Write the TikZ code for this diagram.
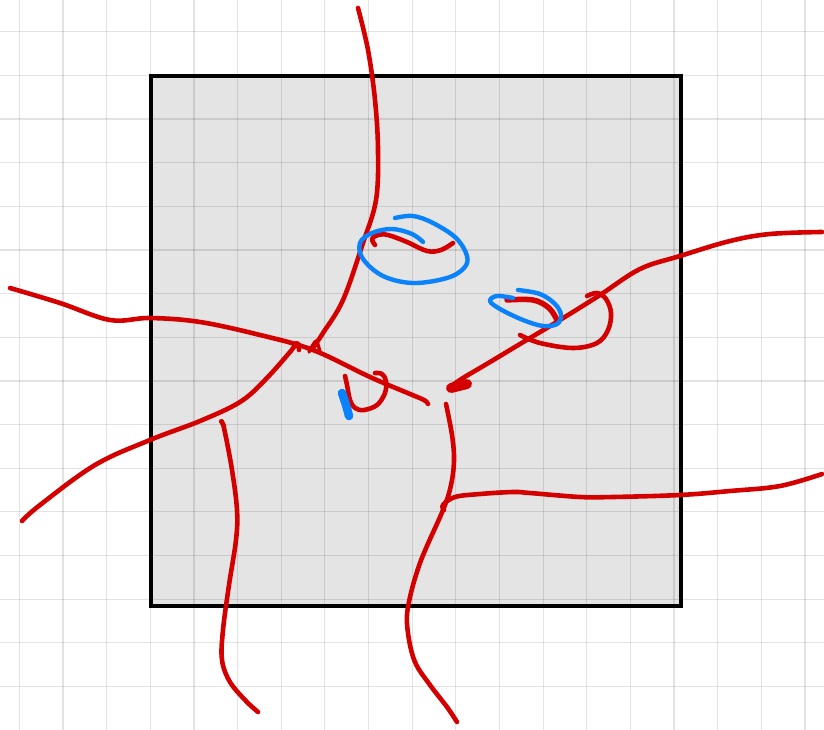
\documentclass[tikz,border=0pt]{standalone}
\usetikzlibrary{calc}
\definecolor{penred}{RGB}{212,0,0}
\definecolor{penblue}{RGB}{10,130,250}
\definecolor{boxfill}{RGB}{228,228,228}
\tikzset{
  gridline/.style={draw=black, opacity=0.11, line width=1.2pt},
  redpen/.style={draw=penred, line width=4.6pt, line cap=round, line join=round},
  redthin/.style={draw=penred, line width=3.4pt, line cap=round, line join=round},
  bluepen/.style={draw=penblue, line width=4.4pt, line cap=round, line join=round},
}
\begin{document}
\begin{tikzpicture}[x=1pt,y=-1pt]
\useasboundingbox (0,0) rectangle (824,730);
\fill[white] (0,0) rectangle (824,730);
% box
\fill[boxfill] (151,76) rectangle (681,606);
% grid
\foreach \k in {0,...,18} {\draw[gridline] ({19.3+43.65*\k},0) -- ({19.3+43.65*\k},730);}
\foreach \k in {0,...,16} {\draw[gridline] (0,{31.7+43.65*\k}) -- (824,{31.7+43.65*\k});}
\draw[draw=black, line width=4.2pt] (151,76) rectangle (681,606);

% top vertical curve
\draw[redpen] plot[smooth, tension=0.6] coordinates {(358,8) (368,50) (375,100) (378,150) (376,200) (363,243) (343,300) (323,333) (313,348)};
% junction mark
\draw[redthin] plot[smooth, tension=0.5] coordinates {(309,352) (316,341) (320,352)};
% left long curve
\draw[redpen] plot[smooth, tension=0.6] coordinates {(10,288) (60,303) (110,320) (150,318) (200,322) (260,335) (313,350) (370,377) (410,394) (424,400) (428,404)};
% lower-left curve
\draw[redpen] plot[smooth, tension=0.6] coordinates {(22,521) (40,505) (95,465) (150,440) (200,421) (240,402) (265,380) (290,352) (297,343) (299,350)};
% lower vertical left
\draw[redpen] plot[smooth, tension=0.6] coordinates {(224,426) (221,421) (224,428) (232,470) (237,510) (236,540) (229,585) (223,630) (222,660) (230,682) (246,701) (258,712)};
% lower vertical right
\draw[redpen] plot[smooth, tension=0.6] coordinates {(446,404) (452,435) (454,460) (451,485) (443,510) (420,563) (408,607) (408,633) (415,662) (430,685) (447,707) (457,722)};
% right horizontal curve
\draw[redpen] plot[smooth, tension=0.6] coordinates {(822,474) (780,486) (730,491) (680,495) (613,497) (580,497) (530,493) (513,492) (480,494) (455,497) (443,505) (444,510)};
% right upper curve
\draw[redpen] plot[smooth, tension=0.6] coordinates {(822,232) (770,234) (730,241) (680,256) (640,269) (600,295) (560,320) (520,344) (485,365) (463,378) (450,387)};
\draw[penred, line width=10pt, line cap=round] (451,388) -- (467,384);
% right loop
\draw[redpen] plot[smooth, tension=0.6] coordinates {(520,335) (540,343) (573,348) (597,343) (608,330) (611,313) (606,299) (597,293) (587,296)};
% red stroke in small ellipse
\draw[redpen, line width=5.5pt] plot[smooth, tension=0.6] coordinates {(507,300) (533,300) (549,308) (557,320)};
% small blue ellipse
\draw[bluepen] plot[smooth, tension=0.6] coordinates {(518,290) (540,294) (555,304) (561,315) (557,324) (543,326) (523,320) (500,309) (490,301) (497,296) (513,298)};
% red stroke in big ellipse
\draw[redpen] plot[smooth, tension=0.6] coordinates {(375,245) (372,239) (378,235) (388,235) (407,242) (427,251) (441,250) (453,243)};
% big blue ellipse
\draw[bluepen] plot[smooth, tension=0.6] coordinates {(395,218) (413,216) (433,223) (456,238) (467,256) (464,268) (447,278) (413,283) (383,276) (363,259) (360,243) (372,233) (392,229) (412,234) (423,242)};
% small red loop
\draw[redpen] plot[smooth, tension=0.6] coordinates {(345,376) (347,385) (350,400) (355,408) (364,410) (377,405) (385,393) (386,381) (382,374) (375,373)};
% blue blob
\draw[penblue, line width=8.5pt, line cap=round] plot[smooth] coordinates {(342,393) (346,405) (349,416)};
\end{tikzpicture}
\end{document}
